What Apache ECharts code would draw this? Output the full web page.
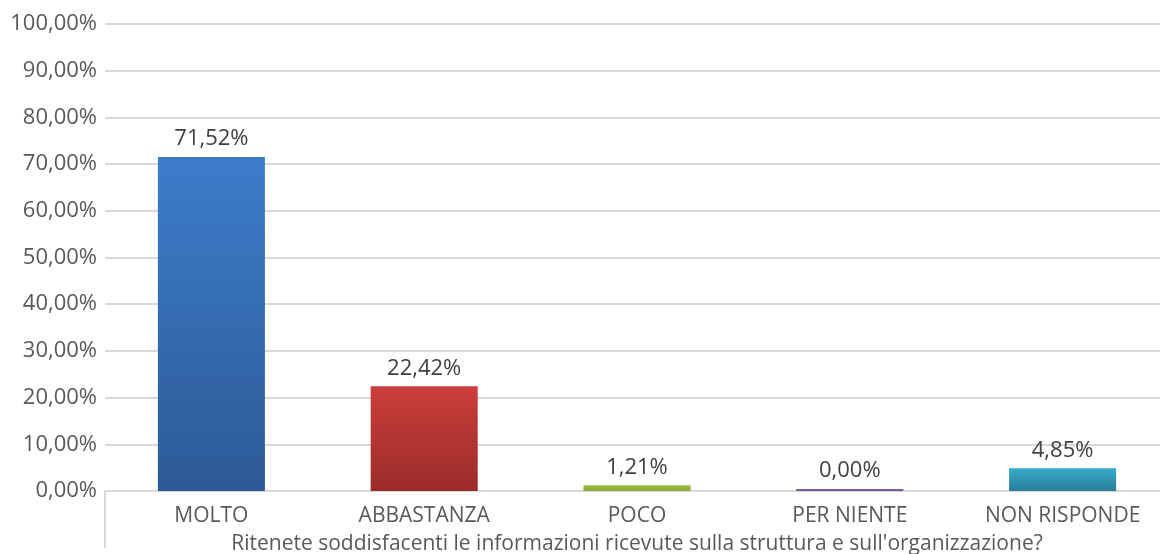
<!DOCTYPE html>
<html>
<head>
<meta charset="utf-8">
<script src="https://cdn.jsdelivr.net/npm/echarts@6/dist/echarts.min.js"></script>
<style>
html,body{margin:0;padding:0;background:#fff;overflow:hidden;}
#c{width:1160px;height:554px;}
</style>
</head>
<body>
<div id="c"></div>
<script>
const categories = ['MOLTO', 'ABBASTANZA', 'POCO', 'PER NIENTE', 'NON RISPONDE'];
const values = [71.52, 22.42, 1.21, 0.00, 4.85];
const topColors = ['#3d7dcb', '#cc3e3b', '#9dc043', '#7e62a6', '#35abcb'];
const bottomColors = ['#2c5a95', '#9a2c29', '#8aa83a', '#6b528f', '#287f99'];
const axisTitle = "Ritenete soddisfacenti le informazioni ricevute sulla struttura e sull'organizzazione?";

const FONT = '"Open Sans", sans-serif';
const fmt = v => v.toFixed(2).replace('.', ',') + '%';

const chart = echarts.init(document.getElementById('c'), null, {renderer: 'canvas'});
chart.setOption({
  animation: false,
  backgroundColor: '#ffffff',
  grid: {left: 105, right: -9, top: 24, bottom: 63, containLabel: false, outerBoundsMode: 'none'},
  xAxis: {
    type: 'category',
    data: categories,
    name: axisTitle,
    nameLocation: 'middle',
    nameGap: 43,
    nameTextStyle: {fontFamily: FONT, fontSize: 21, color: '#595959'},
    axisLine: {show: true, lineStyle: {color: '#d9d9d9', width: 2}},
    axisTick: {show: true, length: 57, interval: i => i === 0, lineStyle: {color: '#d9d9d9', width: 2}},
    axisLabel: {fontFamily: FONT, fontSize: 21, color: '#595959', margin: 15}
  },
  yAxis: {
    type: 'value',
    min: 0, max: 100, interval: 10,
    axisLine: {show: false},
    axisTick: {show: false},
    splitLine: {lineStyle: {color: '#d9d9d9', width: 2}},
    axisLabel: {fontFamily: FONT, fontSize: 22, color: '#595959', margin: 8, formatter: fmt}
  },
  series: [{
    type: 'bar',
    barWidth: '50.3%',
    barMinHeight: 2,
    data: values.map((v, i) => ({
      value: v,
      itemStyle: {
        color: new echarts.graphic.LinearGradient(0, 0, 0, 1, [
          {offset: 0, color: topColors[i]},
          {offset: 1, color: bottomColors[i]}
        ])
      }
    })),
    label: {
      show: true, position: 'top', distance: 7,
      fontFamily: FONT, fontSize: 22, color: '#404040',
      formatter: p => fmt(p.value)
    }
  }]
});
</script>
</body>
</html>
